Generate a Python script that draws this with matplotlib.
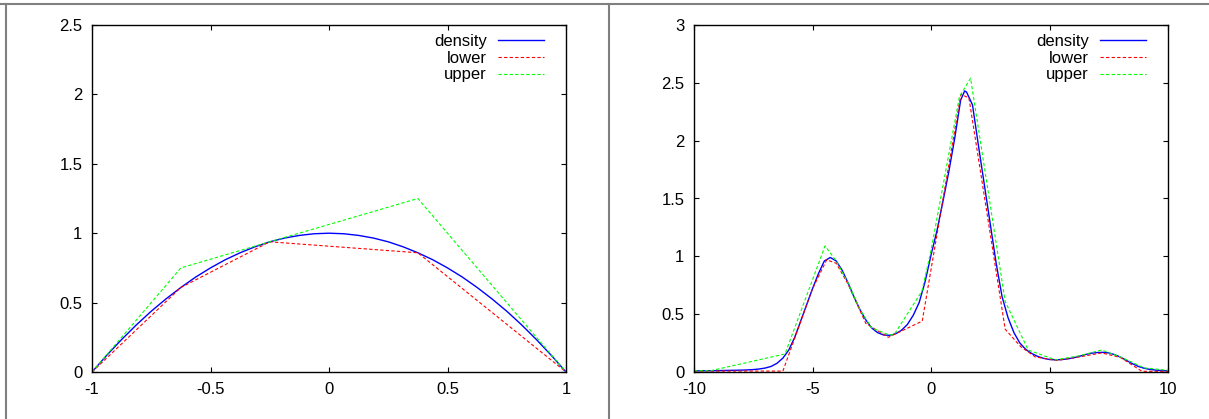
import matplotlib
matplotlib.use("Agg")
import matplotlib.pyplot as plt
from matplotlib.lines import Line2D
from matplotlib.ticker import FormatStrFormatter

plt.rcParams["font.family"] = ["Liberation Sans", "DejaVu Sans"]
plt.rcParams["font.size"] = 12

# ---- left panel data ----
left_x = [-1.0, -0.9375, -0.875, -0.8125, -0.75, -0.6875, -0.625, -0.5625, -0.5,
          -0.4375, -0.375, -0.3125, -0.25, -0.1875, -0.125, -0.0625, 0.0,
          0.0625, 0.125, 0.1875, 0.25, 0.3125, 0.375, 0.4375, 0.5, 0.5625,
          0.625, 0.6875, 0.75, 0.8125, 0.875, 0.9375, 1.0]
left_density = [0.0, 0.121, 0.234, 0.340, 0.438, 0.527, 0.609, 0.684, 0.750,
                0.809, 0.859, 0.902, 0.938, 0.965, 0.984, 0.996, 1.0,
                0.996, 0.984, 0.965, 0.938, 0.902, 0.859, 0.809, 0.750, 0.684,
                0.609, 0.527, 0.438, 0.340, 0.234, 0.121, 0.0]
left_lower_x = [-1.0, -0.625, -0.25, 0.375, 1.0]
left_lower_y = [0.0, 0.609, 0.938, 0.859, 0.0]
left_upper_x = [-1.0, -0.625, -0.25, 0.375, 1.0]
left_upper_y = [0.0, 0.75, 0.938, 1.25, 0.0]

# ---- right panel data ----
right_x = [-10.0, -9.75, -9.5, -9.25, -9.0, -8.75, -8.5, -8.25, -8.0, -7.75,
           -7.5, -7.25, -7.0, -6.75, -6.5, -6.25, -6.0, -5.75, -5.5, -5.25,
           -5.0, -4.75, -4.5, -4.25, -4.0, -3.75, -3.5, -3.25, -3.0, -2.75,
           -2.5, -2.25, -2.0, -1.75, -1.5, -1.25, -1.0, -0.75, -0.5, -0.25,
           0.0, 0.25, 0.5, 0.75, 1.0, 1.25, 1.42, 1.5, 1.75, 2.0, 2.25,
           2.5, 2.75, 3.0, 3.25, 3.5, 3.75, 4.0, 4.25, 4.5, 4.75,
           5.0, 5.25, 5.5, 5.75, 6.0, 6.25, 6.5, 6.75, 7.0, 7.25,
           7.5, 7.75, 8.0, 8.25, 8.5, 8.75, 9.0, 9.25, 9.5, 9.75, 10.0]
right_density = [0.010, 0.010, 0.011, 0.011, 0.012, 0.013, 0.014, 0.015, 0.016, 0.018,
                 0.021, 0.026, 0.034, 0.048, 0.075, 0.12, 0.19, 0.30, 0.44, 0.58,
                 0.72, 0.85, 0.96, 0.99, 0.96, 0.88, 0.77, 0.65, 0.54, 0.45,
                 0.38, 0.34, 0.32, 0.317, 0.33, 0.36, 0.41, 0.49, 0.60, 0.78,
                 1.01, 1.22, 1.47, 1.73, 2.02, 2.35, 2.43, 2.42, 2.31, 1.96, 1.62,
                 1.28, 0.94, 0.65, 0.47, 0.34, 0.25, 0.195, 0.16, 0.135, 0.118,
                 0.108, 0.105, 0.107, 0.113, 0.122, 0.135, 0.150, 0.162, 0.168, 0.170,
                 0.165, 0.150, 0.128, 0.100, 0.072, 0.048, 0.032, 0.022, 0.016, 0.012, 0.010]
right_lower_x = [-10.0, -6.25, -5.0, -4.4, -4.0, -3.5, -2.75, -1.8, -0.37,
                 1.26, 1.6, 3.13, 3.78, 4.4, 5.3, 6.25, 7.2, 8.0, 8.9, 10.0]
right_lower_y = [0.008, 0.008, 0.72, 0.97, 0.94, 0.76, 0.42, 0.30, 0.44,
                 2.40, 2.37, 0.37, 0.22, 0.13, 0.10, 0.13, 0.165, 0.125, 0.006, 0.006]
right_upper_x = [-10.0, -9.3, -6.16, -4.47, -4.0, -3.5, -3.0, -2.5, -1.75, -1.55,
                 -0.38, 0.0, 1.2, 1.67, 3.13, 4.1, 5.25, 6.25, 7.2, 8.0, 9.0, 10.0]
right_upper_y = [0.011, 0.011, 0.156, 1.09, 0.96, 0.77, 0.54, 0.38, 0.32, 0.325,
                 0.70, 1.05, 2.38, 2.54, 0.61, 0.19, 0.105, 0.14, 0.19, 0.13, 0.035, 0.015]

series_labels = ["density", "lower", "upper"]

fig = plt.figure(figsize=(12.09, 4.19), dpi=100)
W, H = 1209.0, 419.0


def make_axes(x0_px):
    return fig.add_axes([x0_px / W, (H - 372) / H, 474 / W, 347 / H])


def style(ax, xlim, ylim, xticks, yticks):
    ax.set_xlim(*xlim)
    ax.set_ylim(*ylim)
    ax.set_xticks(xticks)
    ax.set_yticks(yticks)
    ax.xaxis.set_major_formatter(FormatStrFormatter("%g"))
    ax.yaxis.set_major_formatter(FormatStrFormatter("%g"))
    ax.tick_params(direction="in", length=3.3, width=0.8, top=True, right=True,
                   labelsize=12, pad=7, colors="black")
    for s in ax.spines.values():
        s.set_linewidth(1.0)
    leg = ax.legend(loc="upper right", bbox_to_anchor=(0.954, 0.974),
                    frameon=False, markerfirst=False, handlelength=2.75,
                    handletextpad=0.7, labelspacing=0.1, borderpad=0,
                    borderaxespad=0, fontsize=12)
    return leg


ax1 = make_axes(92)
ax1.plot(left_x, left_density, color="#0000ff", lw=1.0, label=series_labels[0])
ax1.plot(left_lower_x, left_lower_y, color="#ff0000", lw=0.8, ls=(0, (3, 2)),
         label=series_labels[1])
ax1.plot(left_upper_x, left_upper_y, color="#00ff00", lw=0.8, ls=(0, (3, 2)),
         label=series_labels[2])
style(ax1, (-1, 1), (0, 2.5), [-1, -0.5, 0, 0.5, 1], [0, 0.5, 1, 1.5, 2, 2.5])

ax2 = make_axes(694)
ax2.plot(right_x, right_density, color="#0000ff", lw=1.0, label=series_labels[0])
ax2.plot(right_lower_x, right_lower_y, color="#ff0000", lw=0.8, ls=(0, (3, 2)),
         label=series_labels[1])
ax2.plot(right_upper_x, right_upper_y, color="#00ff00", lw=0.8, ls=(0, (3, 2)),
         label=series_labels[2])
style(ax2, (-10, 10), (0, 3), [-10, -5, 0, 5, 10], [0, 0.5, 1, 1.5, 2, 2.5, 3])

# grey table borders around the two panels
border = dict(color="#808080", lw=1.5, transform=fig.transFigure)
fig.add_artist(Line2D([0, 1], [1 - 4 / H, 1 - 4 / H], **border))
fig.add_artist(Line2D([6 / W, 6 / W], [0, 1 - 4 / H], **border))
fig.add_artist(Line2D([608.5 / W, 608.5 / W], [0, 1 - 4 / H], **border))

fig.savefig("out.png", dpi=100)
